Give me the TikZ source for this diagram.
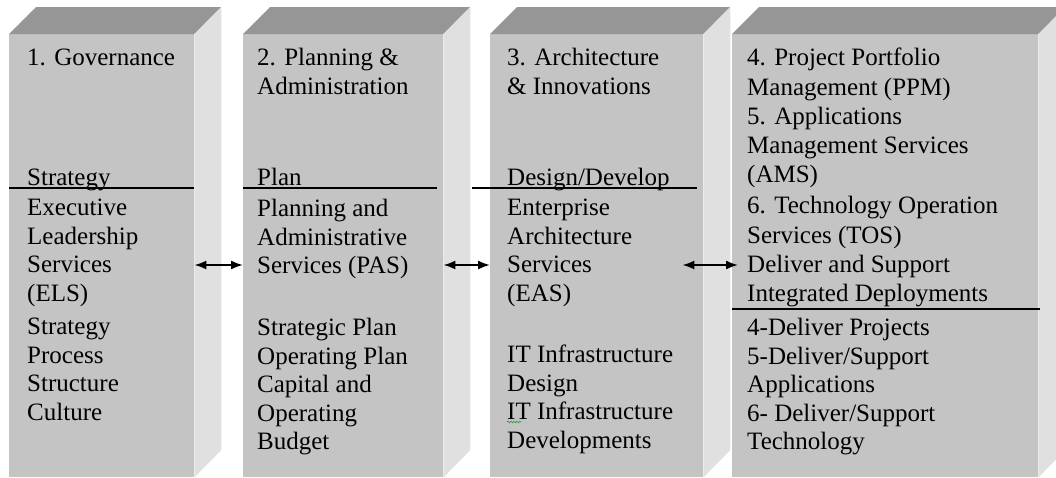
\documentclass[tikz,border=0pt]{standalone}
\usepackage{fontspec}
\setmainfont{Liberation Serif}
\usepackage{tikz}
\usetikzlibrary{arrows.meta, positioning, decorations.pathmorphing}
\definecolor{frente}{RGB}{196,196,196}
\definecolor{tapa}{RGB}{150,150,150}
\definecolor{lado}{RGB}{224,224,224}

\tikzset{
  cara/.style={fill=frente, draw=none, inner sep=0pt, anchor=north west, minimum height=443pt},
  texto/.style={anchor=north west, inner sep=0pt, align=left, font=\fontsize{25}{28.5}\selectfont,
    execute at begin node=\strut},
  raya/.style={line width=1.3pt},
  flecha/.style={{Latex[length=12pt,width=9pt]}-{Latex[length=12pt,width=9pt]}, line width=1.8pt},
}

% caja 3D: nombre, x izquierda, ancho
\newcommand{\caja}[3]{%
  \node[cara, minimum width=#3pt] (#1) at (#2,34) {};
  \fill[tapa] (#1.north west) -- ++(27,-27) -- ++(#3,0) -- (#1.north east) -- cycle;
  \fill[lado] (#1.north east) -- ++(27,-27) -- ++(0,443) -- (#1.south east) -- cycle;
}

\begin{document}
\begin{tikzpicture}[x=1pt, y=-1pt]
            \useasboundingbox (0,0) rectangle (1056,477);
            \clip (0,0) rectangle (1056,477);

            % Cajas
            \caja{b1}{9}{185}
            \caja{b2}{243}{200}
            \caja{b3}{490}{213}
            \caja{b4}{732}{306}

            % Caja 1
            \node[texto] (t1a) at (27,45) {1. Governance};
            \node[texto] (t1b) at (27,165) {Strategy};
            \node[texto] (t1c) at (27,199) {Executive\\Leadership\\Services\\(ELS)};
            \node[texto] (t1d) at (27,318) {Strategy\\Process\\Structure\\Culture};
            \draw[raya] (b1.west |- 0,188) -- (b1.east |- 0,188);

            % Caja 2
            \node[texto] (t2a) at (257,48) {2. Planning \&\\Administration};
            \node[texto] (t2b) at (257,165) {Plan};
            \node[texto] (t2c) at (257,199) {Planning and\\Administrative\\Services (PAS)};
            \node[texto] (t2d) at (257,318) {Strategic Plan\\Operating Plan\\Capital and\\Operating\\Budget};
            \draw[raya] (b2.west |- 0,188) -- ([xshift=-6pt]b2.east |- 0,188);

            % Caja 3
            \node[texto] (t3a) at (507,48) {3. Architecture\\\& Innovations};
            \node[texto] (t3b) at (507,165) {Design/Develop};
            \node[texto] (t3c) at (507,199) {Enterprise\\Architecture\\Services\\(EAS)};
            \node[texto] (t3d) at (507,345) {IT Infrastructure\\Design\\IT Infrastructure\\Developments};
            \draw[raya] ([xshift=-18pt]b3.west |- 0,188) -- ([xshift=-6pt]b3.east |- 0,188);
            \draw[green!60!black, decorate, decoration={snake, amplitude=1pt, segment length=3pt}]
              (507,422) -- (522,422);

            % Caja 4
            \node[texto, font=\fontsize{25}{29.2}\selectfont] (t4a) at (747,48) {4. Project Portfolio\\Management (PPM)\\5. Applications\\Management Services\\(AMS)\\[2pt]6. Technology Operation\\Services (TOS)\\Deliver and Support\\Integrated Deployments};
            \node[texto] (t4b) at (747,318) {4-Deliver Projects\\5-Deliver/Support\\Applications\\6- Deliver/Support\\Technology};
            \draw[raya] (b4.west |- 0,309) -- ([xshift=2pt]b4.east |- 0,309);

            % Flechas
            \coordinate (f3) at ([xshift=-21pt]b3.east);
            \coordinate (f4) at ([xshift=6pt]b4.west);
            \draw[flecha] (b1.east |- 0,265) -- (b2.west |- 0,265);
            \draw[flecha] (b2.east |- 0,265) -- (b3.west |- 0,265);
            \draw[flecha] (f3 |- 0,265) -- (f4 |- 0,265);
        \end{tikzpicture}
\end{document}
